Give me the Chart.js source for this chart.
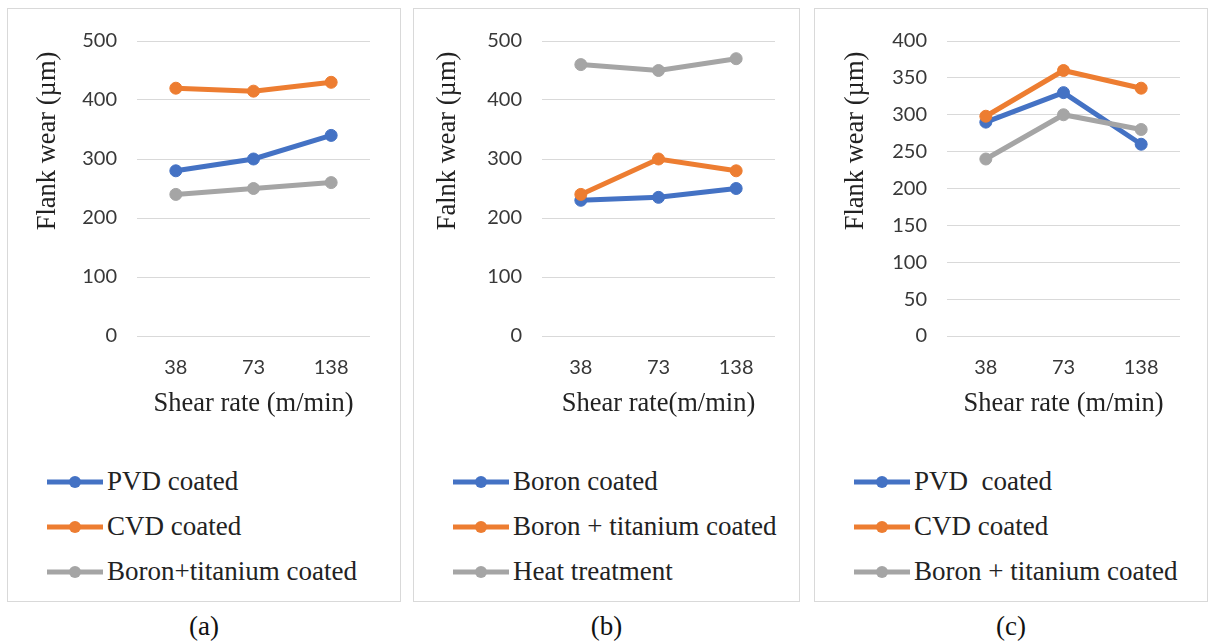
<!DOCTYPE html>
<html>
<head>
<meta charset="utf-8">
<script src="https://cdn.jsdelivr.net/npm/chart.js@4.4.1/dist/chart.umd.min.js"></script>
<style>
  html, body { margin: 0; padding: 0; background: #fff; }
  body { width: 1209px; height: 643px; position: relative; overflow: hidden; }
  .panel { position: absolute; top: 8px; height: 594px; border: 1px solid #d9d9d9; box-sizing: border-box; }
  .panel canvas { position: absolute; left: 0; top: 0; }
  .legend { position: absolute; left: 39px; top: 450px; font-family: "Liberation Serif", "Times New Roman", serif; font-size: 27px; color: #222; }
  .legend .item { height: 45px; display: flex; align-items: center; white-space: pre; }
  .legend svg { margin-right: 4px; flex: none; }
  .sub { position: absolute; top: 611px; font-family: "Liberation Serif", "Times New Roman", serif; font-size: 27px; color: #111; text-align: center; }
</style>
</head>
<body>
<script>
// ---- data ----
const categories = ['38', '73', '138'];

const aSeriesNames = ['PVD coated', 'CVD coated', 'Boron+titanium coated'];
const aPVD = [280, 300, 340];
const aCVD = [420, 415, 430];
const aBoronTi = [240, 250, 260];

const bSeriesNames = ['Boron coated', 'Boron + titanium coated', 'Heat treatment'];
const bBoron = [230, 235, 250];
const bBoronTi = [240, 300, 280];
const bHeat = [460, 450, 470];

const cSeriesNames = ['PVD  coated', 'CVD coated', 'Boron + titanium coated'];
const cPVD = [290, 330, 260];
const cCVD = [298, 360, 336];
const cBoronTi = [240, 300, 280];

const yTitles = ['Flank wear (\u00b5m)', 'Falnk wear (\u00b5m)', 'Flank wear (\u00b5m)'];
const xTitles = ['Shear rate (m/min)', 'Shear rate(m/min)', 'Shear rate (m/min)'];
const subLabels = ['(a)', '(b)', '(c)'];
const yMax = [500, 500, 400];
const yStep = [100, 100, 50];

// ---- styling / layout ----
const colors = ['#4472C4', '#ED7D31', '#A5A5A5'];
const panels = [
  { left: 7,   width: 394, plotL: 137, plotR: 370, yTitleX: 48 },
  { left: 413, width: 387, plotL: 542, plotR: 775, yTitleX: 448 },
  { left: 814, width: 394, plotL: 947, plotR: 1180, yTitleX: 856 }
];
const panelData = [
  [aPVD, aCVD, aBoronTi],
  [bBoron, bBoronTi, bHeat],
  [cPVD, cCVD, cBoronTi]
];
const seriesNames = [aSeriesNames, bSeriesNames, cSeriesNames];

const PLOT_TOP_ABS = 38, PLOT_BOTTOM_ABS = 336, CANVAS_H = 430;
const Y_TITLE_CY = 141, X_TITLE_CY = 404;
const serif = '"Liberation Serif", "Times New Roman", serif';
const sans = 'Lato, "Open Sans", sans-serif';

const titlePlugin = {
  id: 'axisTitles',
  afterDraw(chart, args, opts) {
    const ctx = chart.ctx;
    const a = chart.chartArea;
    ctx.save();
    ctx.fillStyle = '#222';
    ctx.font = '26.5px ' + serif;
    ctx.textAlign = 'center';
    ctx.textBaseline = 'middle';
    ctx.fillText(opts.xText, (a.left + a.right) / 2, opts.xY);
    ctx.translate(opts.yX, opts.yY);
    ctx.rotate(-Math.PI / 2);
    ctx.fillText(opts.yText, 0, 0);
    ctx.restore();
  }
};

panels.forEach((p, i) => {
  const div = document.createElement('div');
  div.className = 'panel';
  div.style.left = p.left + 'px';
  div.style.width = p.width + 'px';
  document.body.appendChild(div);

  const originX = p.left + 1, originY = 9;
  const cw = p.width - 2;
  const canvas = document.createElement('canvas');
  canvas.width = cw; canvas.height = CANVAS_H;
  canvas.style.width = cw + 'px'; canvas.style.height = CANVAS_H + 'px';
  div.appendChild(canvas);

  const yAxisWidth = p.plotL - originX;
  const padRight = originX + cw - p.plotR;
  const padTop = PLOT_TOP_ABS - originY;
  const xAxisHeight = CANVAS_H - (PLOT_BOTTOM_ABS - originY);

  new Chart(canvas, {
    type: 'line',
    data: {
      labels: categories,
      datasets: panelData[i].map((vals, k) => ({
        label: seriesNames[i][k],
        data: vals,
        borderColor: colors[k],
        backgroundColor: colors[k],
        pointBackgroundColor: colors[k],
        pointBorderColor: colors[k],
        borderWidth: 5,
        pointRadius: 6,
        pointBorderWidth: 1,
        tension: 0,
        order: 3 - k
      }))
    },
    options: {
      responsive: false,
      animation: false,
      devicePixelRatio: 1,
      layout: { padding: { left: 0, right: padRight, top: padTop, bottom: 0 } },
      plugins: {
        legend: { display: false },
        tooltip: { enabled: false },
        axisTitles: {
          xText: xTitles[i], xY: X_TITLE_CY - originY,
          yText: yTitles[i], yX: p.yTitleX - originX, yY: Y_TITLE_CY - originY
        }
      },
      scales: {
        x: {
          offset: true,
          grid: { display: false, drawTicks: false },
          border: { display: false },
          ticks: { font: { family: sans, size: 20 }, color: '#383838', padding: 20, maxRotation: 0 },
          afterFit: s => { s.height = xAxisHeight; }
        },
        y: {
          min: 0, max: yMax[i],
          grid: { color: '#d9d9d9', lineWidth: 1, drawTicks: false },
          border: { display: false },
          ticks: { stepSize: yStep[i], font: { family: sans, size: 20 }, color: '#383838', padding: 20 },
          afterFit: s => { s.width = yAxisWidth; }
        }
      }
    },
    plugins: [titlePlugin]
  });

  // legend (HTML)
  const leg = document.createElement('div');
  leg.className = 'legend';
  seriesNames[i].forEach((name, k) => {
    const item = document.createElement('div');
    item.className = 'item';
    item.innerHTML = '<svg width="56" height="16" viewBox="0 0 56 16"><line x1="0" y1="8" x2="56" y2="8" stroke="' + colors[k] +
      '" stroke-width="5"/><circle cx="28" cy="8" r="6" fill="' + colors[k] + '"/></svg>';
    const span = document.createElement('span');
    span.textContent = name;
    item.appendChild(span);
    leg.appendChild(item);
  });
  div.appendChild(leg);

  const sub = document.createElement('div');
  sub.className = 'sub';
  sub.style.left = p.left + 'px';
  sub.style.width = p.width + 'px';
  sub.textContent = subLabels[i];
  document.body.appendChild(sub);
});
</script>
</body>
</html>
